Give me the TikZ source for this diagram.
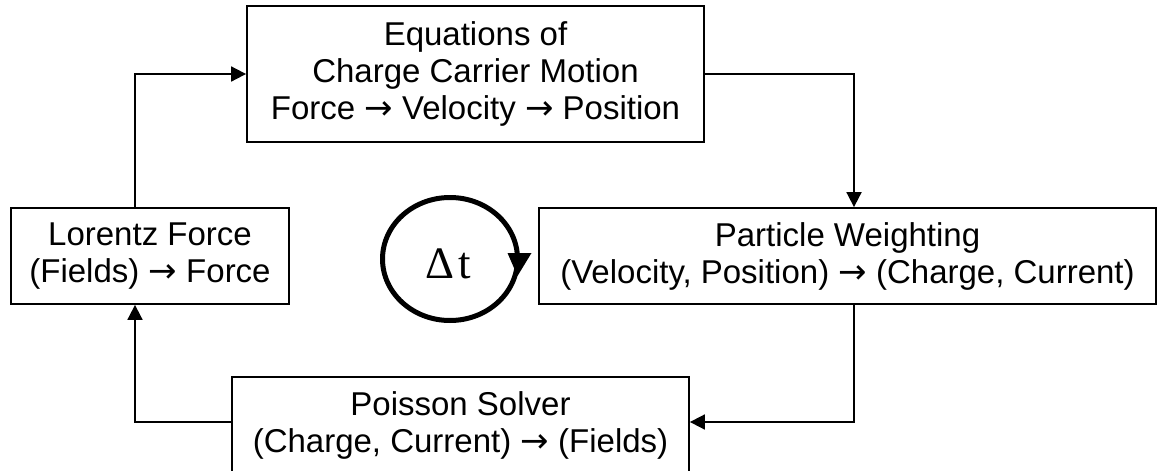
\documentclass[tikz,border=0pt]{standalone}
\usepackage{fontspec}
\setmainfont{Liberation Sans}
\newfontfamily\dtfont{Liberation Serif}
\newfontfamily\arrfont{DejaVu Sans}
\newcommand\rarr{{\arrfont\fontsize{34}{34}\selectfont →}}
\usetikzlibrary{arrows.meta,calc,shapes.geometric}
\begin{document}
\begin{tikzpicture}[x=1pt,y=-1pt,
  box/.style={draw, line width=1.8pt, align=center, inner sep=0pt,
    font=\fontsize{33}{37}\selectfont},
  conn/.style={line width=1.8pt, -{Triangle[length=15pt,width=15pt]}},
  loopring/.style={draw, ellipse, line width=5pt, inner sep=0pt},
]
\useasboundingbox (0,0) rectangle (1159,471);
\node[box, minimum width=457pt, minimum height=136pt] (eq) at (475.5,74)
  {Equations of\\Charge Carrier Motion\\Force \rarr\ Velocity \rarr\ Position};
\node[box, minimum width=278pt, minimum height=96pt] (lor) at (150,256)
  {Lorentz Force\\(Fields) \rarr\ Force};
\node[box, minimum width=617pt, minimum height=96pt] (part) at (847.5,256)
  {Particle Weighting\\(Velocity, Position) \rarr\ (Charge, Current)};
\node[box, minimum width=457pt, minimum height=96pt] (poi) at (460.5,425)
  {Poisson Solver\\(Charge, Current) \rarr\ (Fields)};

\draw[conn] ([xshift=-15pt]lor.north) |- (eq.west);
\draw[conn] (eq.east) -| ([xshift=6.5pt]part.north);
\draw[conn] ([xshift=6.5pt]part.south) |- ([yshift=3pt]poi.east);
\draw[conn] ([yshift=3pt]poi.west) -| ([xshift=-15pt]lor.south);

\node[loopring, minimum width=135pt, minimum height=123pt] (dt) at (450,259) {};
\node[font=\dtfont\fontsize{45}{45}\selectfont, inner sep=0pt] (dtl)
  at ([xshift=-1.5pt,yshift=-5pt]dt.center) {Δ\hspace{4pt}t};
\fill ($(dt.east)+(-12.5,-6)$) -- ($(dt.east)+(11.5,-6)$) -- ($(dt.east)+(-2.5,17)$) -- cycle;
\end{tikzpicture}
\end{document}
